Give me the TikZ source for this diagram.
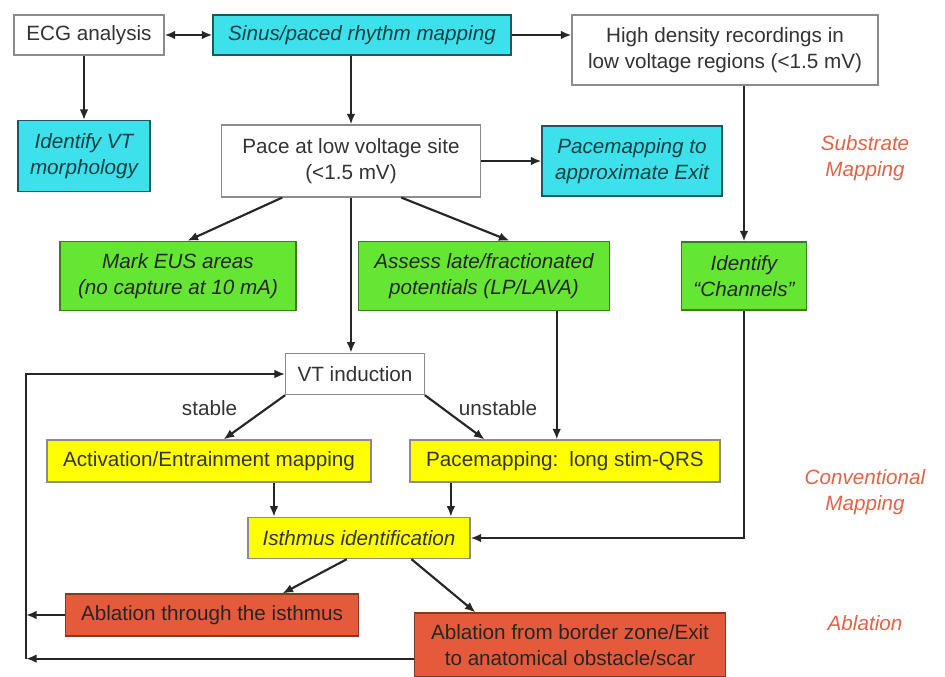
\documentclass[tikz,border=0pt]{standalone}
\usepackage{fontspec}
\setmainfont{Liberation Sans}
\usetikzlibrary{arrows.meta}
\definecolor{mycyan}{RGB}{60,225,235}
\definecolor{mygreen}{RGB}{100,230,50}
\definecolor{myyellow}{RGB}{255,255,0}
\definecolor{myred}{RGB}{230,90,60}
\definecolor{mylabel}{RGB}{225,100,70}
\colorlet{mytext}{black!80}
\colorlet{mydarkcyan}{mycyan!40!black}
\colorlet{mydarkgreen}{mygreen!55!black}
\newcommand{\boxfont}{\fontsize{15.5}{20}\selectfont}
\tikzset{
	box/.style={
		rectangle, draw=black!45, line width=0.8pt,
		align=center, text=mytext, fill=white, font=\boxfont,
	},
	cyanbox/.style={box, fill=mycyan, draw=mydarkcyan, font=\boxfont\itshape, text=mydarkcyan!70!black},
	greenbox/.style={box, fill=mygreen, draw=mydarkgreen, font=\boxfont\itshape, text=black!85},
	yellowbox/.style={box, fill=myyellow, draw=black!45},
	redbox/.style={box, fill=myred, draw=myred!60!black, text=black!85},
	phase/.style={align=center, text=mylabel, font=\boxfont\itshape},
	line/.style={
		draw, -{Latex[length=8pt,width=6.5pt]}, line width=1.6pt, black!85,
	}
}

\begin{document}
\begin{tikzpicture}[x=0.75pt, y=-0.75pt, font=\boxfont]
	\path[use as bounding box, fill=white] (0,0) rectangle (945,677);
	% Substrate mapping
	\node[box, minimum width=112.5, minimum height=30] (ecg) at (89,35) {ECG analysis};
	\node[cyanbox, minimum width=223.5, minimum height=30] (sinus) at (362,35) {Sinus/paced rhythm mapping};
	\node[box, minimum width=229.5, minimum height=52.5] (hdr) at (725,50) {High density recordings in\\low voltage regions (<1.5 mV)};
	\node[cyanbox, minimum width=99, minimum height=53] (idvt) at (84,156) {Identify VT\\morphology};
	\node[box, minimum width=194, minimum height=54] (pace) at (351,161) {Pace at low voltage site\\(<1.5 mV)};
	\node[cyanbox, minimum width=135, minimum height=52.5] (pexit) at (632,161) {Pacemapping to\\approximate Exit};
	\node[greenbox, minimum width=177, minimum height=52] (eus) at (178,276) {Mark EUS areas\\(no capture at 10 mA)};
	\node[greenbox, minimum width=188, minimum height=52] (assess) at (484,276) {Assess late/fractionated\\potentials (LP/LAVA)};
	\node[greenbox, minimum width=94, minimum height=51] (chan) at (744,276) {Identify\\“Channels”};
	% Conventional mapping
	\node[box, minimum width=104, minimum height=31] (vt) at (355,374) {VT induction};
	\node[yellowbox, minimum width=243, minimum height=31.5] (act) at (209,461) {Activation/Entrainment mapping};
	\node[yellowbox, minimum width=232.5, minimum height=31.5] (plong) at (565,461) {Pacemapping:\, long stim-QRS};
	\node[yellowbox, font=\boxfont\itshape, minimum width=166.5, minimum height=31] (isth) at (359,538) {Isthmus identification};
	% Ablation
	\node[redbox, minimum width=220, minimum height=31.5] (abl1) at (212,615) {Ablation through the isthmus};
	\node[redbox, minimum width=233, minimum height=48] (abl2) at (570,645) {Ablation from border zone/Exit\\to anatomical obstacle/scar};
	% Phase labels
	\node[phase] (lsub) at (865,158) {Substrate\\Mapping};
	\node[phase] (lconv) at (865,492) {Conventional\\Mapping};
	\node[phase] (labl) at (865,623) {Ablation};
	% Arrows
	\draw[line, {Latex[length=8pt,width=6.5pt]}-{Latex[length=8pt,width=6.5pt]}] (ecg) -- (sinus);
	\draw[line] (sinus.east) -- (sinus.east -| hdr.west);
	\draw[line] (idvt.north |- ecg.south) -- (idvt.north);
	\draw[line] (pace.north |- sinus.south) -- (pace.north);
	\draw[line] (pace.east) -- (pexit.west);
	\draw[line] (chan.north |- hdr.south) -- (chan.north);
	\draw[line] (pace.208) -- (eus.75);
	\draw[line] (pace.324) -- (assess.54);
	\draw[line] (pace.south) -- (pace.south |- vt.north);
	\draw[line] (vt.south west) -- (act.56)
	node[pos=0.3, left=18pt, text=mytext] (lstable) {stable};
	\draw[line] (vt.south east) -- (plong.165)
	node[pos=0.3, right=8pt, text=mytext] (lunstable) {unstable};
	\draw[line] (plong.111 |- assess.south) -- (plong.111);
	\draw[line] (chan.south) |- (isth.east);
	\draw[line] (isth.166 |- act.south) -- (isth.166);
	\draw[line] (isth.13 |- plong.south) -- (isth.13);
	\draw[line] (isth.240) -- (abl1.17);
	\draw[line] (isth.338) -- (abl2.161);
	% Back to VT induction
	\coordinate (L) at (26,0);
	\draw[line] (abl1.west) -- (abl1.west -| L);
	\draw[line] (abl2.185) -- (abl2.185 -| L);
	\draw[line] (abl2.185 -| L) |- (vt.west);
\end{tikzpicture}
\end{document}
